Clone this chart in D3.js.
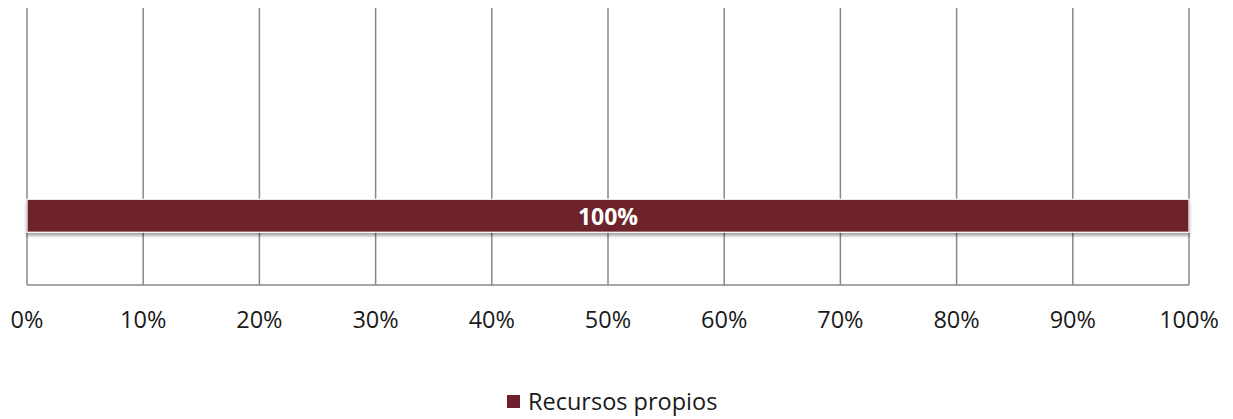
<!DOCTYPE html>
<html><head><meta charset="utf-8">
<script src="https://cdn.jsdelivr.net/npm/d3@7"></script>
<style>body{margin:0;background:#fff}svg{display:block}text{font-family:"Open Sans","Liberation Sans",sans-serif}</style>
</head><body><svg id="c" width="1233" height="419"></svg>
<script>
const categories = ["", "Financiación"];
const seriesName = "Recursos propios";
const values = [null, 100];
const tickValues = [0,10,20,30,40,50,60,70,80,90,100];
const tickLabels = ["0%","10%","20%","30%","40%","50%","60%","70%","80%","90%","100%"];
const color = "#6E212C";

(function(){
const svg = d3.select("#c");
const mLeft = 27, mRight = 1189, mTop = 8, mBottom = 285;
const x = d3.scaleLinear().domain([0,100]).range([mLeft,mRight]);
const y = d3.scaleBand().domain(categories).range([mTop,mBottom]).paddingInner(0.76).paddingOuter(0.38);

const defs = svg.append("defs");
const f = defs.append("filter").attr("id","sh").attr("x","-1%").attr("y","-30%").attr("width","102%").attr("height","180%");
f.append("feDropShadow").attr("dx",0).attr("dy",3).attr("stdDeviation",1.6).attr("flood-color","#000").attr("flood-opacity",0.35);

svg.append("g").selectAll("line").data(tickValues).join("line")
  .attr("x1",d=>x(d)).attr("x2",d=>x(d)).attr("y1",mTop).attr("y2",mBottom)
  .attr("stroke","#888").attr("stroke-width",1.5);
svg.append("line").attr("x1",mLeft).attr("x2",mRight).attr("y1",mBottom).attr("y2",mBottom)
  .attr("stroke","#888").attr("stroke-width",1.5);

const data = categories.map((c,i)=>({c, v: values[i]})).filter(d=>d.v!=null);
svg.append("g").selectAll("rect").data(data).join("rect")
  .attr("x",x(0)).attr("y",d=>y(d.c)+y.bandwidth()/2-16.5).attr("width",d=>x(d.v)-x(0)).attr("height",33)
  .attr("fill",color).attr("stroke","#fff").attr("stroke-width",1.2).attr("filter","url(#sh)");
svg.append("g").selectAll("text").data(data).join("text")
  .attr("x",d=>(x(0)+x(d.v))/2).attr("y",d=>y(d.c)+y.bandwidth()/2+9)
  .attr("text-anchor","middle").attr("fill","#fff").attr("font-weight","bold").attr("font-size",23)
  .text(d=>d.v+"%");

svg.append("g").selectAll("text").data(tickValues).join("text")
  .attr("x",d=>x(d)).attr("y",328).attr("text-anchor","middle").attr("font-size",23.5).attr("fill","#1a1a1a")
  .text((d,i)=>tickLabels[i]);

const lg = svg.append("g");
lg.append("rect").attr("x",507).attr("y",395).attr("width",13).attr("height",13).attr("fill",color);
lg.append("text").attr("x",528).attr("y",410).attr("font-size",23.5).attr("fill","#1a1a1a").text(seriesName);
})();
</script></body></html>
